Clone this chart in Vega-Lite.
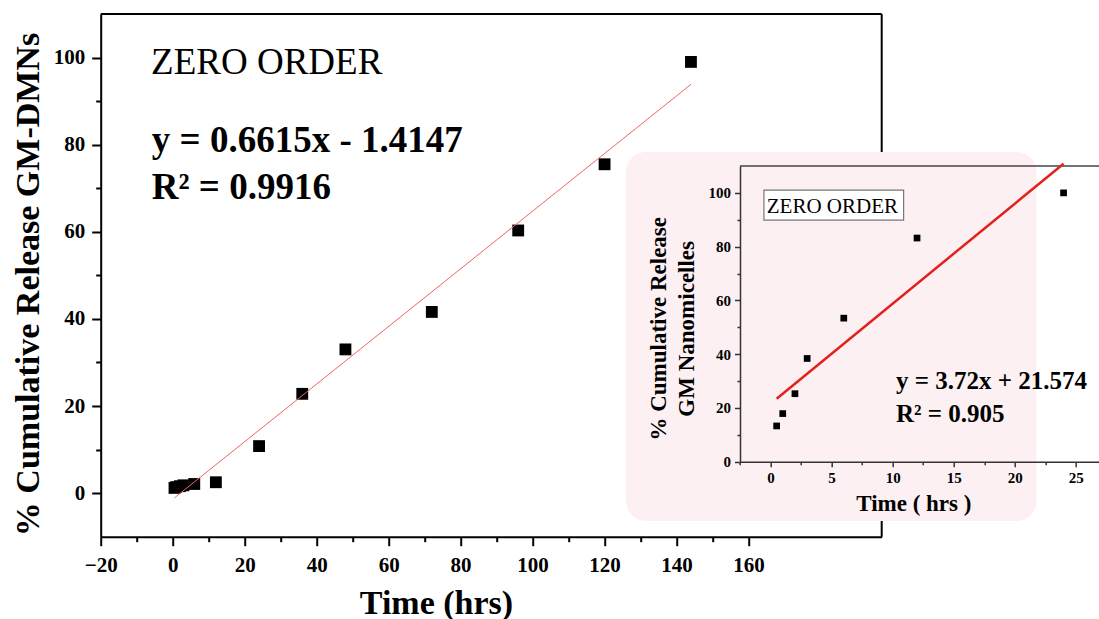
{
  "$schema": "https://vega.github.io/schema/vega-lite/v6.json",
  "width": 781,
  "height": 522.7,
  "autosize": {"type": "none"},
  "padding": {"left": 100.7, "top": 14, "right": 217.3, "bottom": 82.3},
  "background": "white",
  "config": {
    "view": {"stroke": null},
    "font": "Liberation Serif",
    "axis": {"labelFont": "Liberation Serif", "labelFontWeight": "bold", "titleFont": "Liberation Serif", "titleFontWeight": "bold", "labelColor": "black", "titleColor": "black"}
  },
  "layer": [
    {
      "data": {"values": [
        {"time": 0.5, "release": 1.2},
        {"time": 1, "release": 1.4},
        {"time": 2, "release": 1.6},
        {"time": 3, "release": 1.8},
        {"time": 6, "release": 2.1},
        {"time": 12, "release": 2.5},
        {"time": 24, "release": 10.8},
        {"time": 36, "release": 22.8},
        {"time": 48, "release": 33.0},
        {"time": 72, "release": 41.6},
        {"time": 96, "release": 60.3},
        {"time": 120, "release": 75.5},
        {"time": 144, "release": 99.0}
      ]},
      "layer": [
        {
          "mark": {"type": "point", "shape": "square", "filled": true, "color": "black", "size": 140, "opacity": 1},
          "encoding": {
            "x": {
              "field": "time", "type": "quantitative",
              "scale": {"domain": [-20, 197], "nice": false, "zero": false},
              "axis": {
                "values": [-20, -10, 0, 10, 20, 30, 40, 50, 60, 70, 80, 90, 100, 110, 120, 130, 140, 150, 160],
                "format": "d",
                "labelExpr": "datum.value % 20 === 0 ? datum.label : ''",
                "labelFont": "Liberation Serif", "labelFontSize": 21, "labelFontWeight": "bold", "labelColor": "black",
                "labelPadding": 9, "labelFlush": false, "labelOverlap": false,
                "tickSize": {"condition": {"test": "datum.value % 20 === 0", "value": 9}, "value": 5},
                "tickWidth": 2, "tickColor": "black", "domainWidth": 2, "domainColor": "black", "grid": false,
                "title": "Time (hrs)", "titleFont": "Liberation Serif", "titleFontSize": 34, "titleFontWeight": "bold", "titleColor": "black",
                "titleX": 335.3, "titleY": 76.3, "titleBaseline": "alphabetic", "titleAlign": "center"
              }
            },
            "y": {
              "field": "release", "type": "quantitative",
              "scale": {"domain": [-10, 110], "nice": false, "zero": false},
              "axis": {
                "values": [0, 10, 20, 30, 40, 50, 60, 70, 80, 90, 100],
                "format": "d",
                "labelExpr": "datum.value % 20 === 0 ? datum.label : ''",
                "labelFont": "Liberation Serif", "labelFontSize": 21, "labelFontWeight": "bold", "labelColor": "black",
                "labelPadding": 7, "labelOverlap": false,
                "tickSize": {"condition": {"test": "datum.value % 20 === 0", "value": 9}, "value": 5},
                "tickWidth": 2, "tickColor": "black", "domainWidth": 2, "domainColor": "black", "grid": false,
                "title": "% Cumulative Release GM-DMNs", "titleFont": "Liberation Serif", "titleFontSize": 34, "titleFontWeight": "bold", "titleColor": "black",
                "titleAngle": -90, "titleX": -62, "titleY": 270, "titleBaseline": "alphabetic", "titleAlign": "center"
              }
            }
          }
        },
        {
          "data": {"values": [{"time": 0.5, "fit": -1.08}, {"time": 144, "fit": 93.84}]},
          "mark": {"type": "line", "color": "#f26464", "strokeWidth": 1},
          "encoding": {
            "x": {"field": "time", "type": "quantitative"},
            "y": {"field": "fit", "type": "quantitative"}
          }
        },
        {
          "data": {"values": [{}]},
          "mark": {"type": "rule", "color": "black", "strokeWidth": 2},
          "encoding": {"x": {"datum": -20}, "x2": {"datum": 197}, "y": {"datum": 110}}
        },
        {
          "data": {"values": [{}]},
          "mark": {"type": "rule", "color": "black", "strokeWidth": 2},
          "encoding": {"x": {"datum": 197}, "y": {"datum": -10}, "y2": {"datum": 110}}
        },
        {
          "data": {"values": [{"t": "ZERO ORDER"}]},
          "mark": {"type": "text", "align": "left", "baseline": "alphabetic", "font": "Liberation Serif", "fontSize": 37, "color": "black"},
          "encoding": {"x": {"datum": -6.0}, "y": {"datum": 96.3}, "text": {"field": "t"}}
        },
        {
          "data": {"values": [{"t": ["y = 0.6615x - 1.4147", "R² = 0.9916"]}]},
          "mark": {"type": "text", "align": "left", "baseline": "alphabetic", "font": "Liberation Serif", "fontSize": 37, "fontWeight": "bold", "lineHeight": 47.3, "color": "black"},
          "encoding": {"x": {"datum": -5.8}, "y": {"datum": 78.3}, "text": {"field": "t"}}
        },
        {
          "data": {"values": [{}]},
          "mark": {"type": "rect", "color": "#fcf0f3", "cornerRadius": 20},
          "encoding": {"x": {"datum": 126.0}, "x2": {"datum": 240}, "y": {"datum": 78.3}, "y2": {"datum": -6.4}}
        }
      ]
    },
    {
      "data": {"values": [
        {"t": 0.5, "r": 13.3},
        {"t": 1, "r": 17.9},
        {"t": 2, "r": 25.3},
        {"t": 3, "r": 38.4},
        {"t": 6, "r": 53.4},
        {"t": 12, "r": 83.2},
        {"t": 24, "r": 100.0}
      ]},
      "layer": [
        {
          "data": {"values": [{}]},
          "mark": {"type": "rule", "color": "#444444", "strokeWidth": 1.5},
          "encoding": {"x": {"datum": -2.5}, "x2": {"datum": 27.5}, "y": {"datum": 110}}
        },
        {
          "mark": {"type": "point", "shape": "square", "filled": true, "color": "black", "size": 45, "opacity": 1},
          "encoding": {
            "x": {
              "field": "t", "type": "quantitative",
              "scale": {"domain": [-2.5, 27.5], "range": [639.3, 1005.6], "nice": false, "zero": false},
              "axis": {
                "orient": "bottom", "offset": -75, "zindex": 1,
                "values": [-2.5, 0, 2.5, 5, 7.5, 10, 12.5, 15, 17.5, 20, 22.5, 25, 27.5],
                "format": "d",
                "labelExpr": "datum.value % 5 === 0 ? datum.label : ''",
                "labelFont": "Liberation Serif", "labelFontSize": 15, "labelFontWeight": "bold", "labelColor": "black",
                "labelPadding": 4, "labelFlush": false, "labelOverlap": false,
                "tickSize": {"condition": {"test": "datum.value % 5 === 0", "value": 5}, "value": 3},
                "tickWidth": 1.5, "tickColor": "#333333", "domainWidth": 1.5, "domainColor": "#333333", "grid": false,
                "title": "Time ( hrs )", "titleFont": "Liberation Serif", "titleFontSize": 23, "titleFontWeight": "bold", "titleColor": "black",
                "titleX": 812.6, "titleY": 48.3, "titleBaseline": "alphabetic", "titleAlign": "center"
              }
            },
            "y": {
              "field": "r", "type": "quantitative",
              "scale": {"domain": [0, 110], "range": [447.7, 152], "nice": false, "zero": false},
              "axis": {
                "orient": "left", "offset": -639.3, "zindex": 1,
                "values": [0, 10, 20, 30, 40, 50, 60, 70, 80, 90, 100],
                "format": "d",
                "labelExpr": "datum.value % 20 === 0 ? datum.label : ''",
                "labelFont": "Liberation Serif", "labelFontSize": 15, "labelFontWeight": "bold", "labelColor": "black",
                "labelPadding": 4, "labelOverlap": false,
                "tickSize": {"condition": {"test": "datum.value % 20 === 0", "value": 5.5}, "value": 3},
                "tickWidth": 1.5, "tickColor": "#333333", "domainWidth": 1.5, "domainColor": "#333333", "grid": false,
                "title": ["% Cumulative Release", "GM Nanomicelles"], "titleFont": "Liberation Serif", "titleFontSize": 23, "titleFontWeight": "bold", "titleColor": "black",
                "titleAngle": -90, "titleX": -75, "titleY": 314.3, "titleBaseline": "alphabetic", "titleAlign": "center", "titleLineHeight": 28
              }
            }
          }
        },
        {
          "data": {"values": [{"t": 0.5, "fit": 23.43}, {"t": 24, "fit": 110.85}]},
          "mark": {"type": "line", "color": "#e3201b", "strokeWidth": 2.5},
          "encoding": {
            "x": {"field": "t", "type": "quantitative"},
            "y": {"field": "fit", "type": "quantitative"}
          }
        },
        {
          "data": {"values": [{}]},
          "mark": {"type": "rect", "fill": "white", "stroke": "#777777", "strokeWidth": 1.2},
          "encoding": {"x": {"datum": -0.54}, "x2": {"datum": 10.9}, "y": {"datum": 101.0}, "y2": {"datum": 89.9}}
        },
        {
          "data": {"values": [{"label": "ZERO ORDER"}]},
          "mark": {"type": "text", "align": "left", "baseline": "alphabetic", "font": "Liberation Serif", "fontSize": 21, "color": "black"},
          "encoding": {"x": {"datum": -0.31}, "y": {"datum": 92.7}, "text": {"field": "label"}}
        },
        {
          "data": {"values": [{"label": ["y = 3.72x + 21.574", "R² = 0.905"]}]},
          "mark": {"type": "text", "align": "left", "baseline": "alphabetic", "font": "Liberation Serif", "fontSize": 25, "fontWeight": "bold", "lineHeight": 32.4, "color": "black"},
          "encoding": {"x": {"datum": 10.27}, "y": {"datum": 26.9}, "text": {"field": "label"}}
        }
      ]
    }
  ],
  "resolve": {
    "scale": {"x": "independent", "y": "independent"},
    "axis": {"x": "independent", "y": "independent"}
  }
}
